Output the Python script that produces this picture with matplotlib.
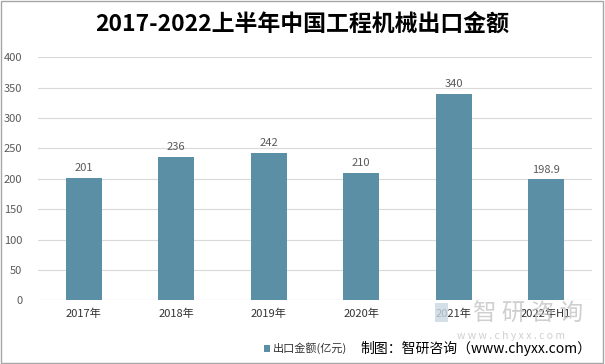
import matplotlib
matplotlib.use('Agg')
import matplotlib.pyplot as plt
from matplotlib.patches import Rectangle
import numpy as np

plt.rcParams['font.family'] = ['Noto Sans CJK SC', 'DejaVu Sans']

years = ['2017年', '2018年', '2019年', '2020年', '2021年', '2022年H1']
values = [201, 236, 242, 210, 340, 198.9]
labels = ['201', '236', '242', '210', '340', '198.9']
yticks = [0, 50, 100, 150, 200, 250, 300, 350, 400]

bar_color = '#5b8fa6'
grid_color = '#d9d9d9'
text_color = '#595959'

fig = plt.figure(figsize=(6.05, 3.64), dpi=100)
ax = fig.add_axes([0.062, 0.175, 0.917, 0.668])

x = np.arange(len(years))
ax.bar(x, values, width=0.39, color=bar_color, zorder=3)
for xi, v, lab in zip(x, values, labels):
    ax.text(xi, v + 8, lab, ha='center', va='bottom', fontsize=8, color=text_color)

ax.set_xlim(-0.5, len(years) - 0.5)
ax.set_ylim(0, 400)
ax.set_yticks(yticks)
ax.set_xticks(x)
ax.set_xticklabels(years, fontsize=8, color='#333333')
ax.tick_params(axis='y', labelsize=8, colors=text_color, length=0, pad=11)
ax.tick_params(axis='x', length=0, pad=6)
ax.yaxis.grid(True, color=grid_color, linewidth=0.8, zorder=0)
for s in ax.spines.values():
    s.set_visible(False)
ax.axhline(0, color=grid_color, linewidth=0.8, zorder=2)

fig.text(0.5, 0.93, '2017-2022上半年中国工程机械出口金额', ha='center', va='center',
         fontsize=16.5, fontweight='bold', color='#000000')

# watermark
fig.text(0.873, 0.135, '智 研 咨 询', ha='center', va='center', fontsize=17,
         color='#c4c4c4', alpha=0.8, zorder=0)
fig.text(0.845, 0.077, 'w w w . c h y x x . c o m', ha='center', va='center', fontsize=7.5,
         color='#c4c4c4', alpha=0.8, zorder=0)
fig.patches.append(Rectangle((0.719, 0.115), 0.021, 0.053, transform=fig.transFigure,
                             facecolor='#c8d6e0', edgecolor='none', alpha=0.8, zorder=0))

# legend
fig.patches.append(Rectangle((0.436, 0.033), 0.011, 0.019, transform=fig.transFigure,
                             facecolor=bar_color, edgecolor='none'))
fig.text(0.451, 0.043, '出口金额(亿元)', ha='left', va='center', fontsize=8, color='#333333')

# source
fig.text(0.978, 0.044, '制图：智研咨询（www.chyxx.com）', ha='right', va='center',
         fontsize=10, color='#000000')

# border
fig.patches.append(Rectangle((0.002, 0.003), 0.995, 0.994, transform=fig.transFigure,
                             facecolor='none', edgecolor='#a6a6a6', linewidth=1))

fig.savefig('out.png', dpi=100)
